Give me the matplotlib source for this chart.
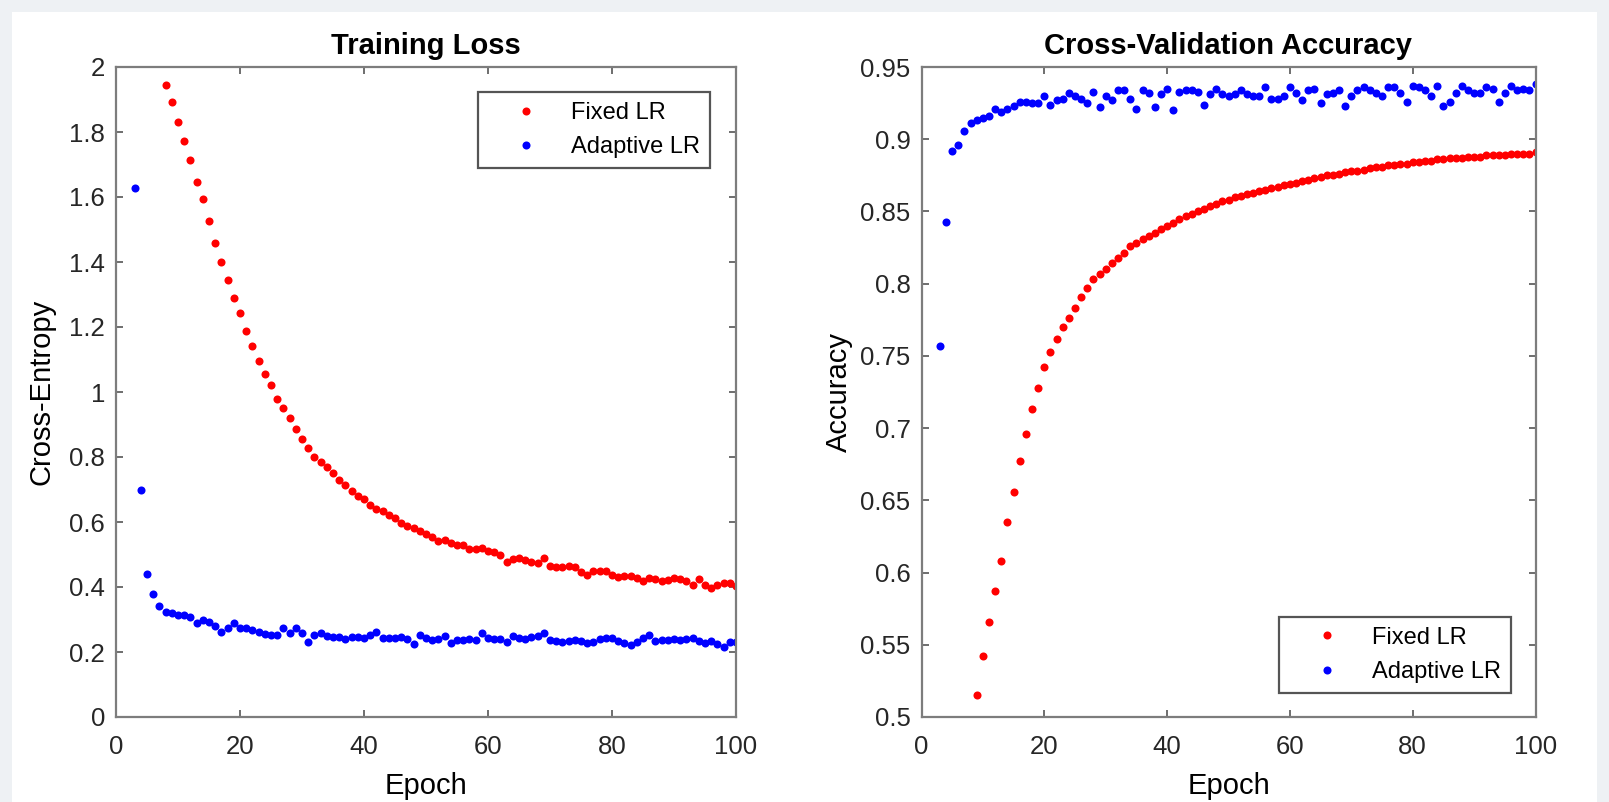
import numpy as np
import matplotlib
matplotlib.use("Agg")
import matplotlib.pyplot as plt
from matplotlib.patches import Rectangle
from matplotlib.ticker import FuncFormatter

plt.rcParams["font.family"] = ["Liberation Sans", "DejaVu Sans"]

# training loss, fixed learning rate (epochs 8..100)
loss_fixed_epochs = np.arange(8, 101)
loss_fixed = [
    1.946, 1.891, 1.832, 1.773, 1.715, 1.647, 1.593, 1.526, 1.459, 1.399,
    1.345, 1.289, 1.243, 1.187, 1.143, 1.095, 1.054, 1.023, 0.979, 0.950,
    0.919, 0.885, 0.854, 0.829, 0.801, 0.785, 0.770, 0.750, 0.730, 0.714,
    0.694, 0.680, 0.670, 0.652, 0.639, 0.635, 0.622, 0.611, 0.598, 0.588,
    0.583, 0.572, 0.563, 0.555, 0.542, 0.546, 0.536, 0.529, 0.529, 0.516,
    0.516, 0.519, 0.511, 0.508, 0.498, 0.478, 0.485, 0.488, 0.483, 0.478,
    0.475, 0.488, 0.465, 0.461, 0.461, 0.465, 0.463, 0.447, 0.437, 0.450,
    0.450, 0.450, 0.437, 0.432, 0.434, 0.434, 0.427, 0.417, 0.427, 0.424,
    0.420, 0.422, 0.427, 0.424, 0.417, 0.406, 0.424, 0.406, 0.398, 0.406,
    0.411, 0.411, 0.403,
]

# training loss, adaptive learning rate (epochs 3..100)
loss_adaptive_epochs = np.arange(3, 101)
loss_adaptive = [
    1.628, 0.698, 0.439, 0.379, 0.342, 0.322, 0.319, 0.314, 0.314, 0.309,
    0.290, 0.300, 0.293, 0.280, 0.262, 0.273, 0.288, 0.273, 0.273, 0.267,
    0.262, 0.254, 0.252, 0.252, 0.275, 0.257, 0.273, 0.257, 0.232, 0.252,
    0.257, 0.249, 0.247, 0.247, 0.239, 0.247, 0.247, 0.242, 0.252, 0.262,
    0.244, 0.244, 0.244, 0.247, 0.239, 0.226, 0.252, 0.242, 0.237, 0.239,
    0.249, 0.228, 0.237, 0.237, 0.239, 0.237, 0.257, 0.242, 0.239, 0.239,
    0.232, 0.249, 0.242, 0.239, 0.245, 0.249, 0.259, 0.237, 0.234, 0.232,
    0.234, 0.237, 0.234, 0.228, 0.232, 0.239, 0.242, 0.242, 0.234, 0.228,
    0.221, 0.232, 0.242, 0.252, 0.234, 0.237, 0.237, 0.239, 0.237, 0.239,
    0.242, 0.234, 0.228, 0.234, 0.226, 0.216, 0.232, 0.232,
]

# cross-validation accuracy, fixed learning rate (epochs 9..100)
acc_fixed_epochs = np.arange(9, 101)
acc_fixed = [
    0.515, 0.542, 0.566, 0.587, 0.608, 0.635, 0.656, 0.677, 0.696, 0.713,
    0.728, 0.742, 0.753, 0.762, 0.770, 0.776, 0.783, 0.791, 0.797, 0.803,
    0.807, 0.810, 0.814, 0.818, 0.821, 0.826, 0.828, 0.831, 0.833, 0.835,
    0.838, 0.840, 0.842, 0.845, 0.847, 0.848, 0.850, 0.852, 0.854, 0.855,
    0.857, 0.858, 0.860, 0.861, 0.862, 0.863, 0.864, 0.865, 0.866, 0.867,
    0.868, 0.869, 0.870, 0.871, 0.872, 0.873, 0.874, 0.875, 0.875, 0.876,
    0.877, 0.878, 0.878, 0.879, 0.880, 0.881, 0.881, 0.882, 0.882, 0.883,
    0.883, 0.884, 0.884, 0.885, 0.885, 0.886, 0.886, 0.887, 0.887, 0.887,
    0.888, 0.888, 0.888, 0.889, 0.889, 0.889, 0.889, 0.890, 0.890, 0.890,
    0.890, 0.891,
]

# cross-validation accuracy, adaptive learning rate (epochs 3..100)
acc_adaptive_epochs = np.arange(3, 101)
acc_adaptive = [
    0.757, 0.843, 0.892, 0.896, 0.906, 0.911, 0.913, 0.915, 0.916, 0.921,
    0.919, 0.921, 0.923, 0.926, 0.926, 0.925, 0.925, 0.930, 0.924, 0.927,
    0.928, 0.932, 0.930, 0.928, 0.925, 0.933, 0.922, 0.930, 0.927, 0.934,
    0.934, 0.928, 0.921, 0.934, 0.932, 0.922, 0.931, 0.935, 0.920, 0.933,
    0.934, 0.934, 0.933, 0.924, 0.931, 0.935, 0.931, 0.930, 0.931, 0.934,
    0.931, 0.930, 0.930, 0.936, 0.928, 0.928, 0.930, 0.936, 0.932, 0.927,
    0.934, 0.935, 0.925, 0.931, 0.932, 0.934, 0.923, 0.930, 0.934, 0.936,
    0.934, 0.932, 0.930, 0.936, 0.936, 0.932, 0.926, 0.937, 0.936, 0.934,
    0.930, 0.937, 0.923, 0.926, 0.932, 0.937, 0.934, 0.932, 0.932, 0.936,
    0.935, 0.926, 0.932, 0.937, 0.934, 0.935, 0.934, 0.938,
]

series_labels = ["Fixed LR", "Adaptive LR"]
series_colors = ["#ff0000", "#0000ff"]
x_ticks = [0, 20, 40, 60, 80, 100]
loss_ticks = np.round(np.arange(0, 2.01, 0.2), 2)
acc_ticks = np.round(np.arange(0.5, 0.951, 0.05), 2)

W, H = 1609, 802
fig = plt.figure(figsize=(W / 100, H / 100), dpi=100, facecolor="#eef1f4")
fig.patches.append(Rectangle((12 / W, 0), (W - 24) / W, (H - 12) / H,
                             transform=fig.transFigure, facecolor="white",
                             edgecolor="none", zorder=-10))

ax1 = fig.add_axes([116 / W, 85 / H, 620 / W, 650 / H])
ax2 = fig.add_axes([921.5 / W, 85 / H, 614 / W, 650 / H])

fmt = FuncFormatter(lambda v, _: f"{v:g}")


def style(ax):
    for s in ax.spines.values():
        s.set_color("#7d7d7d")
        s.set_linewidth(1.6)
    ax.tick_params(direction="in", top=True, right=True, length=5, width=1.2,
                   color="#555555", labelcolor="#262626", labelsize=18.5)
    ax.tick_params(axis="y", pad=8)
    ax.tick_params(axis="x", pad=13)
    ax.set_xlim(0, 100)
    ax.set_xticks(x_ticks)
    ax.xaxis.set_major_formatter(fmt)
    ax.yaxis.set_major_formatter(fmt)


ms = 5.8
ax1.plot(loss_fixed_epochs, loss_fixed, "o", color=series_colors[0], ms=ms, mew=0, label=series_labels[0])
ax1.plot(loss_adaptive_epochs, loss_adaptive, "o", color=series_colors[1], ms=ms, mew=0, label=series_labels[1])
style(ax1)
ax1.set_ylim(0, 2)
ax1.set_yticks(loss_ticks)
ax1.set_title("Training Loss", fontsize=21, fontweight="bold", pad=9)
ax1.set_xlabel("Epoch", fontsize=21, labelpad=9)
ax1.set_ylabel("Cross-Entropy", fontsize=21, labelpad=10)

ax2.plot(acc_fixed_epochs, acc_fixed, "o", color=series_colors[0], ms=ms, mew=0, label=series_labels[0])
ax2.plot(acc_adaptive_epochs, acc_adaptive, "o", color=series_colors[1], ms=ms, mew=0, label=series_labels[1])
style(ax2)
ax2.set_ylim(0.5, 0.95)
ax2.set_yticks(acc_ticks)
ax2.set_title("Cross-Validation Accuracy", fontsize=21, fontweight="bold", pad=9)
ax2.set_xlabel("Epoch", fontsize=21, labelpad=9)
ax2.set_ylabel("Accuracy", fontsize=21, labelpad=5)

leg_kw = dict(fontsize=17, frameon=True, fancybox=False, framealpha=1,
              edgecolor="#555555", borderpad=0.42, handlelength=3.15,
              handletextpad=0.35, labelspacing=0.52, borderaxespad=0)
leg1 = ax1.legend(loc="upper right", bbox_to_anchor=(0.958, 0.9615), **leg_kw)
leg2 = ax2.legend(loc="lower right", bbox_to_anchor=(0.960, 0.037), **leg_kw)
for leg in (leg1, leg2):
    leg.get_frame().set_linewidth(1.6)

fig.savefig("out.png", dpi=100, facecolor=fig.get_facecolor())
